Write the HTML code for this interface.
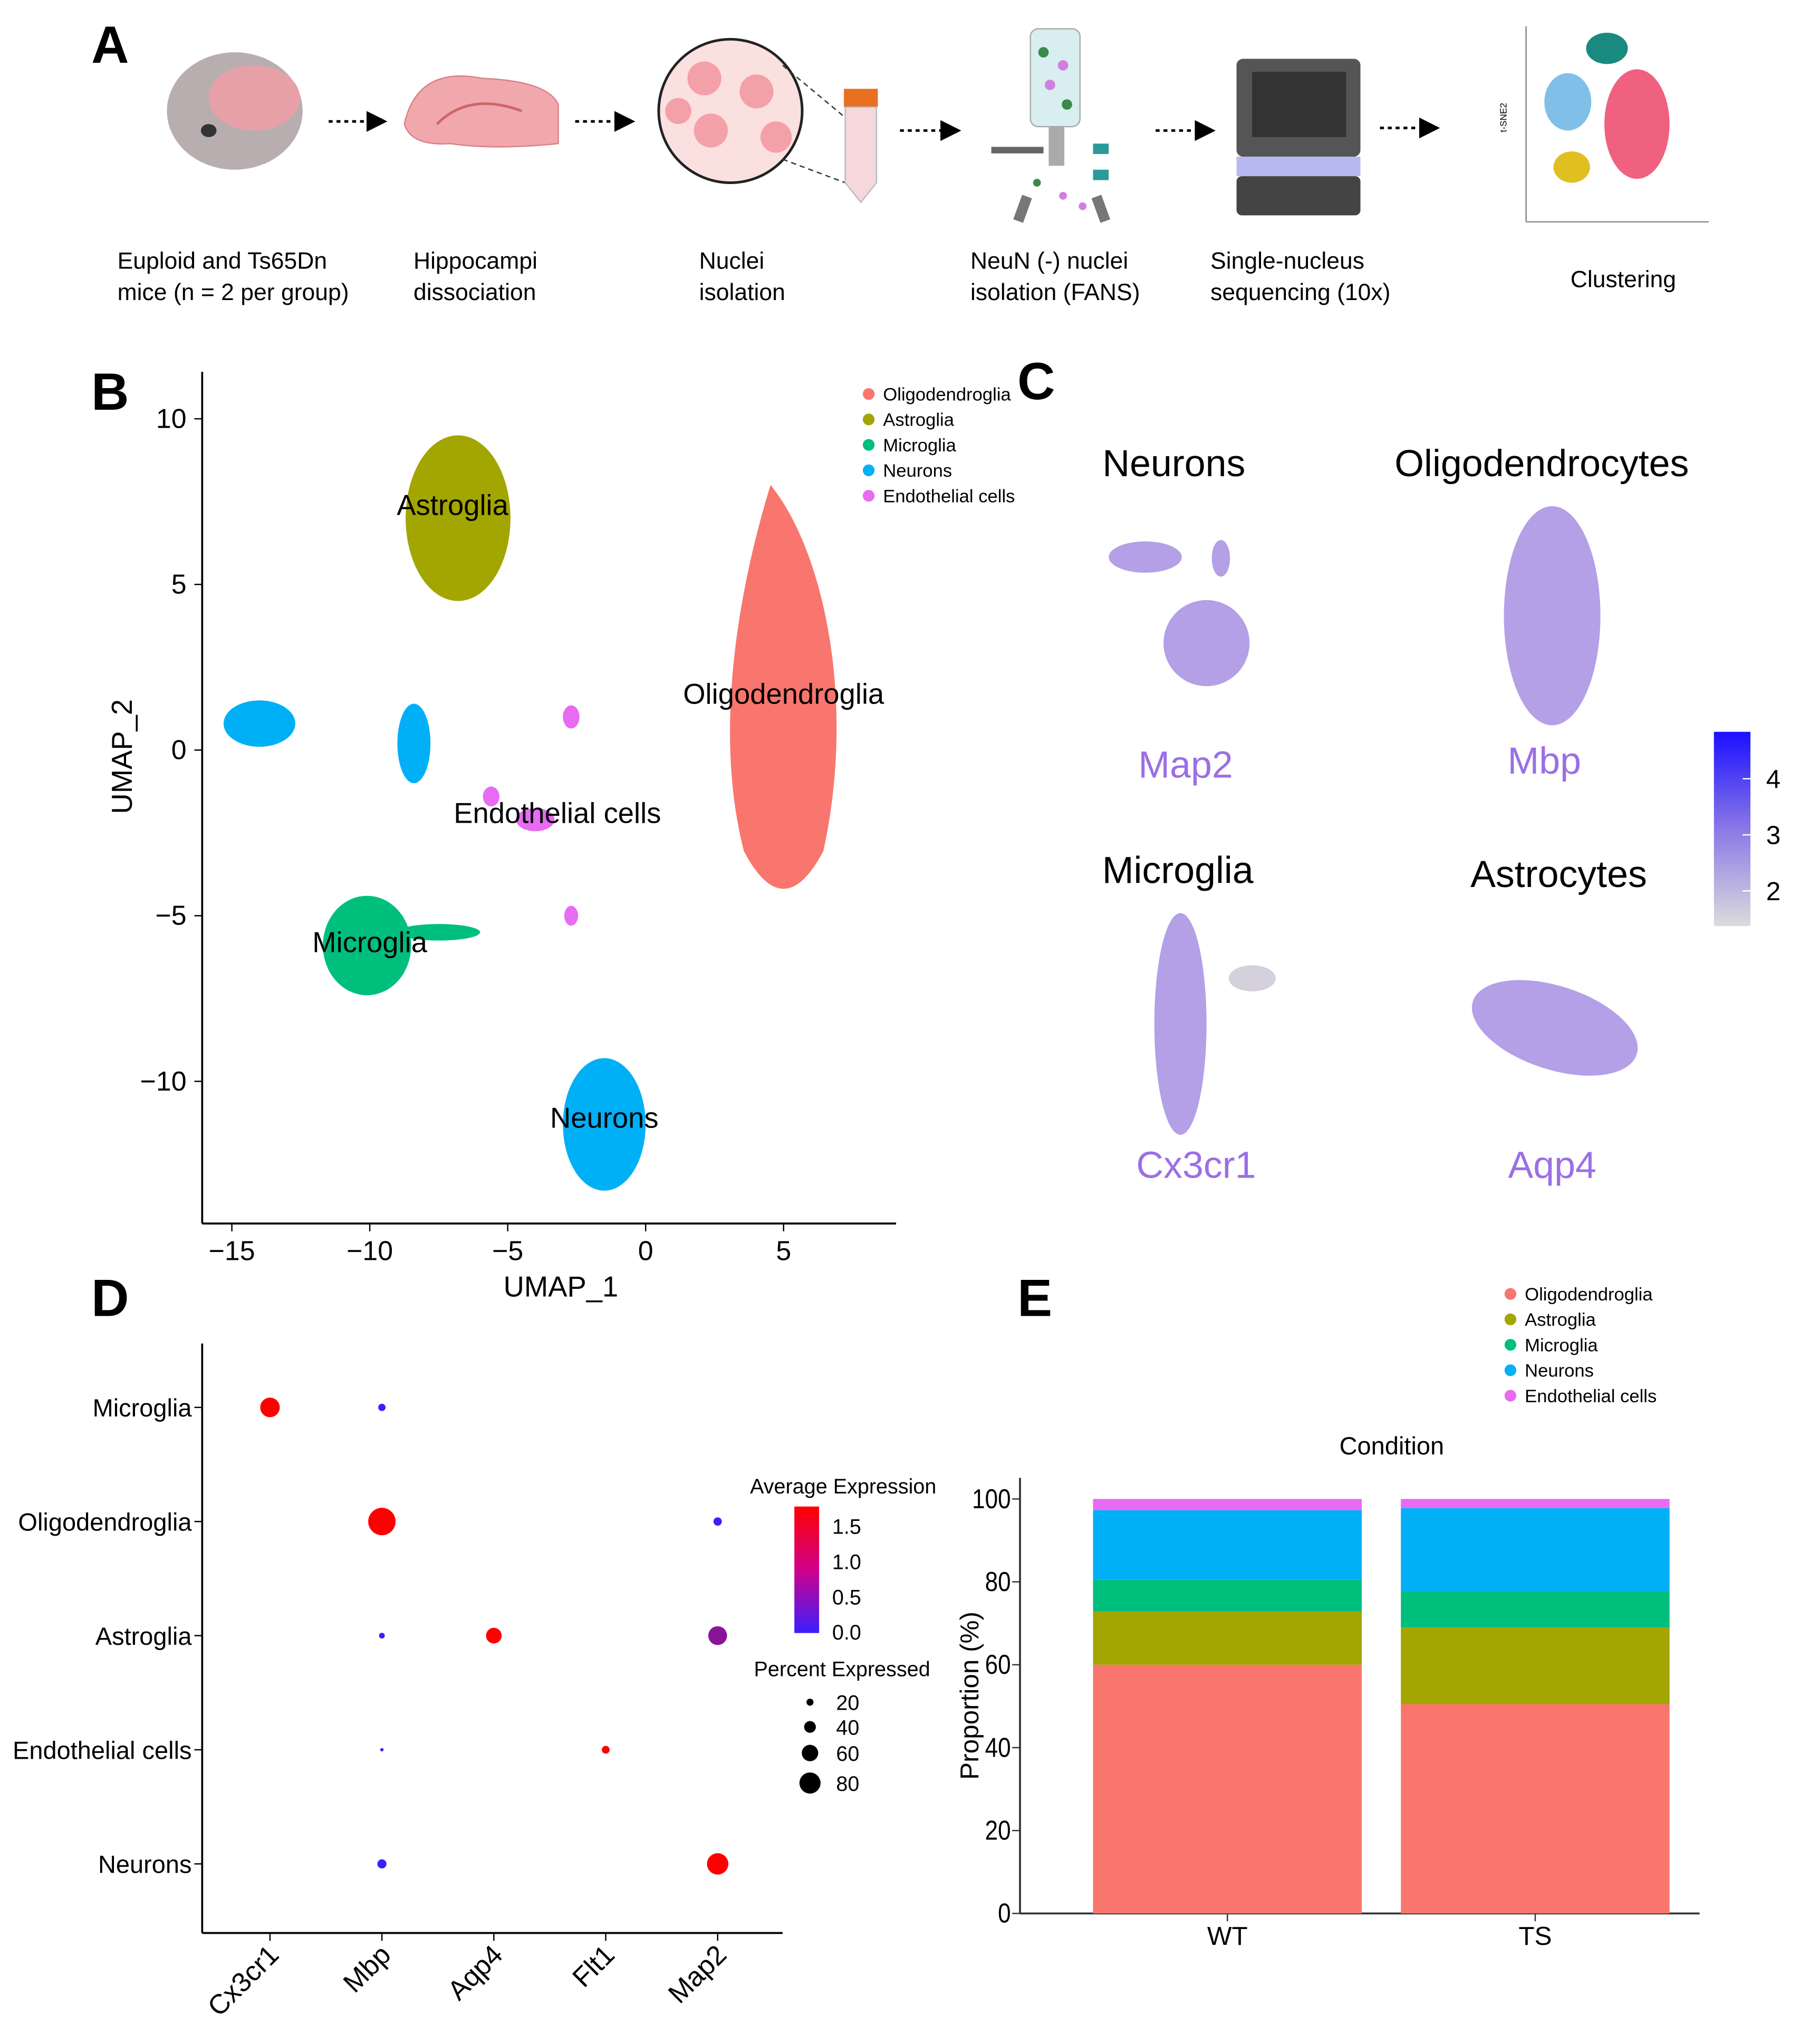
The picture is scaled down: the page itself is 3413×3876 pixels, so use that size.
<!DOCTYPE html>
<html><head><meta charset="utf-8">
<style>
html,body{margin:0;padding:0;background:#fff;}
svg{display:block;font-family:"Liberation Sans",Arial,sans-serif;}
</style></head>
<body>
<svg id="fig" width="3413" height="3876" viewBox="0 0 1380 1567" xmlns="http://www.w3.org/2000/svg">
<defs>
<marker id="arr" markerWidth="8" markerHeight="8" refX="6" refY="4" orient="auto"><path d="M0,0 L8,4 L0,8 z" fill="#000"/></marker>
<linearGradient id="cgrad" x1="0" y1="0" x2="0" y2="1"><stop offset="0" stop-color="#1a10ff"/><stop offset="0.5" stop-color="#8a78e6"/><stop offset="1" stop-color="#dcdcdc"/></linearGradient>
<linearGradient id="egrad" x1="0" y1="0" x2="0" y2="1"><stop offset="0" stop-color="#ff0000"/><stop offset="0.5" stop-color="#d0008a"/><stop offset="1" stop-color="#3a1fff"/></linearGradient>
</defs>

<g>
<text x="70" y="48" font-size="40" font-weight="bold">A</text>
<g>
<ellipse cx="180" cy="85" rx="52" ry="45" fill="#b8aeb0"/>
<ellipse cx="195" cy="75" rx="35" ry="25" fill="#e8a0a8"/>
<ellipse cx="160" cy="100" rx="6" ry="5" fill="#333"/>
</g>
<line x1="252" y1="93" x2="293" y2="93" stroke="#000" stroke-width="2" stroke-dasharray="3,3" marker-end="url(#arr)"/>
<g>
<path d="M310,95 Q320,50 370,60 Q420,62 428,80 L428,110 Q380,115 345,110 Q315,112 310,95z" fill="#f0a8ac" stroke="#d88088"/>
<path d="M335,95 Q360,70 400,85" stroke="#c66" fill="none" stroke-width="2"/>
</g>
<line x1="441" y1="93" x2="483" y2="93" stroke="#000" stroke-width="2" stroke-dasharray="3,3" marker-end="url(#arr)"/>
<g>
<circle cx="560" cy="85" r="55" fill="#fbe0e0" stroke="#222" stroke-width="2"/>
<circle cx="540" cy="60" r="13" fill="#f4a0a8"/><circle cx="580" cy="70" r="13" fill="#f4a0a8"/>
<circle cx="545" cy="100" r="13" fill="#f4a0a8"/><circle cx="595" cy="105" r="12" fill="#f4a0a8"/>
<circle cx="520" cy="85" r="10" fill="#f4a0a8"/>
<line x1="600" y1="50" x2="648" y2="90" stroke="#333" stroke-dasharray="4,3"/>
<line x1="600" y1="122" x2="648" y2="140" stroke="#333" stroke-dasharray="4,3"/>
<rect x="647" y="68" width="26" height="14" fill="#e87020"/>
<path d="M648,82 L672,82 L672,140 L660,155 L648,140z" fill="#f6d8dc" stroke="#bbb"/>
</g>
<line x1="690" y1="100" x2="733" y2="100" stroke="#000" stroke-width="2" stroke-dasharray="3,3" marker-end="url(#arr)"/>
<g>
<rect x="790" y="22" width="38" height="75" rx="6" fill="#d8eef0" stroke="#aaa"/>
<circle cx="800" cy="40" r="4" fill="#3a8a4a"/><circle cx="815" cy="50" r="4" fill="#d080e0"/><circle cx="805" cy="65" r="4" fill="#d080e0"/><circle cx="818" cy="80" r="4" fill="#3a8a4a"/>
<rect x="804" y="97" width="12" height="30" fill="#aaa"/>
<line x1="760" y1="115" x2="800" y2="115" stroke="#666" stroke-width="5"/>
<rect x="838" y="110" width="12" height="8" fill="#2a9a9a"/><rect x="838" y="130" width="12" height="8" fill="#2a9a9a"/>
<circle cx="795" cy="140" r="3" fill="#3a8a4a"/><circle cx="815" cy="150" r="3" fill="#d080e0"/><circle cx="830" cy="158" r="3" fill="#d080e0"/>
<rect x="780" y="150" width="8" height="20" fill="#777" transform="rotate(20 784 160)"/>
<rect x="840" y="150" width="8" height="20" fill="#777" transform="rotate(-20 844 160)"/>
</g>
<line x1="886" y1="100" x2="928" y2="100" stroke="#000" stroke-width="2" stroke-dasharray="3,3" marker-end="url(#arr)"/>
<g>
<rect x="948" y="45" width="95" height="75" rx="5" fill="#555"/>
<rect x="960" y="55" width="72" height="50" fill="#333"/>
<rect x="948" y="120" width="95" height="15" fill="#b8b8f0"/>
<rect x="948" y="135" width="95" height="30" rx="4" fill="#444"/>
</g>
<line x1="1058" y1="98" x2="1100" y2="98" stroke="#000" stroke-width="2" stroke-dasharray="3,3" marker-end="url(#arr)"/>
<g>
<line x1="1170" y1="20" x2="1170" y2="170" stroke="#888"/><line x1="1170" y1="170" x2="1310" y2="170" stroke="#888"/>
<ellipse cx="1232" cy="37" rx="16" ry="12" fill="#1a8a80"/>
<ellipse cx="1202" cy="78" rx="18" ry="22" fill="#80c0e8"/>
<ellipse cx="1255" cy="95" rx="25" ry="42" fill="#f06080"/>
<ellipse cx="1205" cy="128" rx="14" ry="12" fill="#e0c020"/>
<text x="1155" y="90" font-size="7" transform="rotate(-90 1155 90)" text-anchor="middle">t-SNE2</text>
</g>
<g font-size="18">
<text x="90" y="206">Euploid and Ts65Dn</text><text x="90" y="230">mice (n = 2 per group)</text>
<text x="317" y="206">Hippocampi</text><text x="317" y="230">dissociation</text>
<text x="536" y="206">Nuclei</text><text x="536" y="230">isolation</text>
<text x="744" y="206">NeuN (-) nuclei</text><text x="744" y="230">isolation (FANS)</text>
<text x="928" y="206">Single-nucleus</text><text x="928" y="230">sequencing (10x)</text>
<text x="1204" y="220">Clustering</text>
</g>
</g>

<text x="70" y="314" font-size="40" font-weight="bold">B</text>
<text x="780" y="306" font-size="40" font-weight="bold">C</text>
<text x="70" y="1009" font-size="40" font-weight="bold">D</text>
<text x="780" y="1009" font-size="40" font-weight="bold">E</text>

<g id="pb"></g>
<g id="pc"></g>
<g id="pd"></g>
<g id="pe"></g>
</svg>
<script>
const NS="http://www.w3.org/2000/svg";
const umapXTicks=[-15,-10,-5,0,5];
const umapYTicks=[10,5,0,-5,-10];
const clusterNames=["Oligodendroglia","Astroglia","Microglia","Neurons","Endothelial cells"];
const clusterColors=["#F8766D","#A3A500","#00BF7D","#00B0F6","#E76BF3"];
const blobCluster=[0,1,2,2,3,3,3,4,4,4,4];
const blobCx=[5.0,-6.8,-10.1,-7.5,-14.0,-8.4,-1.5,-2.7,-5.6,-4.0,-2.7];
const blobCy=[1.5,7.0,-5.9,-5.5,0.8,0.2,-11.3,1.0,-1.4,-2.1,-5.0];
const blobRx=[2.4,1.9,1.6,1.5,1.3,0.6,1.5,0.3,0.3,0.7,0.25];
const blobRy=[6.5,2.5,1.5,0.25,0.7,1.2,2.0,0.35,0.3,0.35,0.3];
const labelTexts=["Astroglia","Oligodendroglia","Endothelial cells","Microglia","Neurons"];
const labelX=[-7.0,5.0,-3.2,-10.0,-1.5];
const labelY=[7.1,1.4,-2.2,-6.1,-11.4];
const dotRows=["Microglia","Oligodendroglia","Astroglia","Endothelial cells","Neurons"];
const dotCols=["Cx3cr1","Mbp","Aqp4","Flt1","Map2"];
const dotRowIdx=[0,0,1,1,2,2,2,3,3,4,4];
const dotColIdx=[0,1,1,4,1,2,4,1,3,1,4];
const dotExpr=[1.7,0.0,1.8,0.0,0.0,1.6,0.6,0.0,1.6,0.0,1.7];
const dotPct=[65,18,95,22,12,50,62,3,20,25,72];
const exprTicks=[1.5,1.0,0.5,0.0];
const pctTicks=[20,40,60,80];
const conditions=["WT","TS"];
const oligoPct=[60.0,50.5];
const astroPct=[12.8,18.5];
const microPct=[7.7,8.8];
const neuronPct=[16.8,20.0];
const endoPct=[2.7,2.2];
const propTicks=[0,20,40,60,80,100];

function mk(tag,attrs,parent,text){const e=document.createElementNS(NS,tag);for(const k in attrs)e.setAttribute(k,attrs[k]);if(text!==undefined)e.textContent=text;parent.appendChild(e);return e;}

(function(){
const g=document.getElementById('pb');
const sx=v=>495+v*21.15, sy=v=>575-v*25.4;
mk('line',{x1:155,y1:285,x2:155,y2:938,stroke:'#000','stroke-width':1.5},g);
mk('line',{x1:155,y1:938,x2:687,y2:938,stroke:'#000','stroke-width':1.5},g);
umapXTicks.forEach(t=>{mk('line',{x1:sx(t),y1:938,x2:sx(t),y2:944,stroke:'#000'},g);
 const e=mk('text',{x:sx(t),y:966,'font-size':21,'text-anchor':'middle'},g,t<0?'\u2212'+(-t):t);
 });
umapYTicks.forEach(t=>{mk('line',{x1:149,y1:sy(t),x2:155,y2:sy(t),stroke:'#000'},g);
 const e=mk('text',{x:143,y:sy(t)+7,'font-size':21,'text-anchor':'end'},g,t<0?'\u2212'+(-t):t);
 });
let e=mk('text',{x:430,y:994,'font-size':22,'text-anchor':'middle'},g,'UMAP_1');

e=mk('text',{x:101,y:580,'font-size':22,'text-anchor':'middle',transform:'rotate(-90 101 580)'},g,'UMAP_2');

blobCluster.forEach((c,i)=>{
 const cx=sx(blobCx[i]),cy=sy(blobCy[i]),rx=blobRx[i]*21.15,ry=blobRy[i]*25.4;
 let el;
 if(c===0){el=mk('path',{d:`M${cx-10},${cy-ry} C${cx+rx*0.6},${cy-ry*0.7} ${cx+rx*1.1},${cy} ${cx+rx*0.6},${cy+ry*0.7} Q${cx},${cy+ry*1.05} ${cx-rx*0.6},${cy+ry*0.7} C${cx-rx*1.1},${cy+ry*0.1} ${cx-rx*0.6},${cy-ry*0.6} ${cx-10},${cy-ry}z`,fill:clusterColors[c]},g);}
 else el=mk('ellipse',{cx:cx,cy:cy,rx:rx,ry:ry,fill:clusterColors[c]},g);
 
 
});
labelTexts.forEach((t,i)=>{const el=mk('text',{x:sx(labelX[i]),y:sy(labelY[i]),'font-size':22,'text-anchor':'middle'},g,t);
 });
clusterNames.forEach((n,i)=>{
 const y=302+i*19.5;
 const d=mk('circle',{cx:666,cy:y,r:4.5,fill:clusterColors[i]},g);
 
 const t=mk('text',{x:677,y:y+5,'font-size':14},g,n);
 
});
})();

(function(){
const g=document.getElementById('pc');
const titles=[["Neurons",900,365],["Oligodendrocytes",1182,365],["Microglia",903,677],["Astrocytes",1195,680]];
titles.forEach(t=>{const e=mk('text',{x:t[1],y:t[2],'font-size':29,'text-anchor':'middle'},g,t[0]);
 });
const genes=[["Map2",909,596],["Mbp",1184,593],["Cx3cr1",917,903],["Aqp4",1190,903]];
genes.forEach(t=>{const e=mk('text',{x:t[1],y:t[2],'font-size':29,'text-anchor':'middle',fill:'#9b6fe6'},g,t[0]);
 });
const shapes=[
 ['ellipse',{cx:878,cy:427,rx:28,ry:12}],['ellipse',{cx:936,cy:428,rx:7,ry:14}],
 ['ellipse',{cx:925,cy:493,rx:33,ry:33}],['ellipse',{cx:1190,cy:472,rx:37,ry:84}],
 ['ellipse',{cx:905,cy:785,rx:20,ry:85}],['ellipse',{cx:960,cy:750,rx:18,ry:10}],
 ['ellipse',{cx:1192,cy:788,rx:66,ry:32,transform:'rotate(18 1192 788)'}]];
shapes.forEach((s,i)=>{const a=Object.assign({fill:(i==5)?'#d4d0dc':'#b3a0e6'},s[1]);
 const e=mk(s[0],a,g);});
let cb=mk('rect',{x:1314,y:561,width:28,height:149,fill:'url(#cgrad)'},g);

[[4,597],[3,640],[2,683]].forEach(t=>{mk('line',{x1:1336,y1:t[1],x2:1342,y2:t[1],stroke:'#fff'},g);
 const e=mk('text',{x:1354,y:t[1]+7,'font-size':20},g,t[0]);});
})();

(function(){
const g=document.getElementById('pd');
const cx=i=>207+i*85.8, cy=i=>1079+i*87.5;
mk('line',{x1:155,y1:1030,x2:155,y2:1482,stroke:'#000','stroke-width':1.5},g);
mk('line',{x1:155,y1:1482,x2:600,y2:1482,stroke:'#000','stroke-width':1.5},g);
dotRows.forEach((r,i)=>{mk('line',{x1:149,y1:cy(i),x2:155,y2:cy(i),stroke:'#000'},g);
 const e=mk('text',{x:147,y:cy(i)+7,'font-size':19,'text-anchor':'end'},g,r);
 });
dotCols.forEach((c,i)=>{mk('line',{x1:cx(i),y1:1482,x2:cx(i),y2:1488,stroke:'#000'},g);
 const x=cx(i)+8,y=1500;
 const e=mk('text',{x:x,y:y,'font-size':21,'text-anchor':'end',transform:`rotate(-45 ${x} ${y})`},g,c);
 });
const rad=p=>1+0.1*p;
const col=v=>{const t=Math.max(0,Math.min(1,v/1.5));const r=Math.round(58+(255-58)*t),gg=Math.round(31*(1-t)),b=Math.round(255*(1-t));return `rgb(${r},${gg},${b})`;};
dotRowIdx.forEach((r,i)=>{const e=mk('circle',{cx:cx(dotColIdx[i]),cy:cy(r),r:rad(dotPct[i]),fill:col(dotExpr[i])},g);
 });
let e=mk('text',{x:575,y:1145,'font-size':16},g,'Average Expression');

e=mk('rect',{x:609,y:1155,width:19,height:97,fill:'url(#egrad)'},g);

exprTicks.forEach(t=>{const y=1251-t*54;
 const el=mk('text',{x:638,y:y+6,'font-size':16},g,t.toFixed(1));});
e=mk('text',{x:578,y:1285,'font-size':16},g,'Percent Expressed');

pctTicks.forEach((p,i)=>{const y=[1305,1324,1344,1367][i];
 const c=mk('circle',{cx:621,cy:y,r:rad(p)*0.9,fill:'#000'},g);
 const t=mk('text',{x:641,y:y+6,'font-size':16},g,p);});
})();

(function(){
const g=document.getElementById('pe');
const y0=1467, k=3.178;
const sy=v=>y0-v*k;
const barX=[838,1074], bw=206;
mk('line',{x1:782,y1:1133,x2:782,y2:1467,stroke:'#333','stroke-width':1.5},g);
mk('line',{x1:782,y1:1467,x2:1303,y2:1467,stroke:'#333','stroke-width':1.5},g);
propTicks.forEach(t=>{mk('line',{x1:776,y1:sy(t),x2:782,y2:sy(t),stroke:'#333'},g);
 const e=mk('text',{x:0,y:0,'font-size':21,'text-anchor':'end',transform:`translate(775 ${sy(t)+7}) scale(0.85 1)`},g,t);
 });
const series=[oligoPct,astroPct,microPct,neuronPct,endoPct];
const sNames=["oligodendroglia","astroglia","microglia","neurons","endothelial"];
conditions.forEach((c,i)=>{
 let acc=0;
 series.forEach((s,j)=>{const r=mk('rect',{x:barX[i],y:sy(acc+s[i]),width:bw,height:s[i]*k,fill:clusterColors[j]},g);
  acc+=s[i];});
 mk('line',{x1:barX[i]+bw/2,y1:1467,x2:barX[i]+bw/2,y2:1473,stroke:'#333'},g);
 const t=mk('text',{x:barX[i]+bw/2,y:1491,'font-size':20,'text-anchor':'middle'},g,c);
 
});
let e=mk('text',{x:750,y:1300,'font-size':20,'text-anchor':'middle',transform:'rotate(-90 750 1300)'},g,'Proportion (%)');

e=mk('text',{x:1067,y:1115,'font-size':19,'text-anchor':'middle'},g,'Condition');

clusterNames.forEach((n,i)=>{const y=992+i*19.5;
 const d=mk('circle',{cx:1158,cy:y,r:4.5,fill:clusterColors[i]},g);
 const t=mk('text',{x:1169,y:y+5,'font-size':14},g,n);});
})();
</script>
</body></html>
